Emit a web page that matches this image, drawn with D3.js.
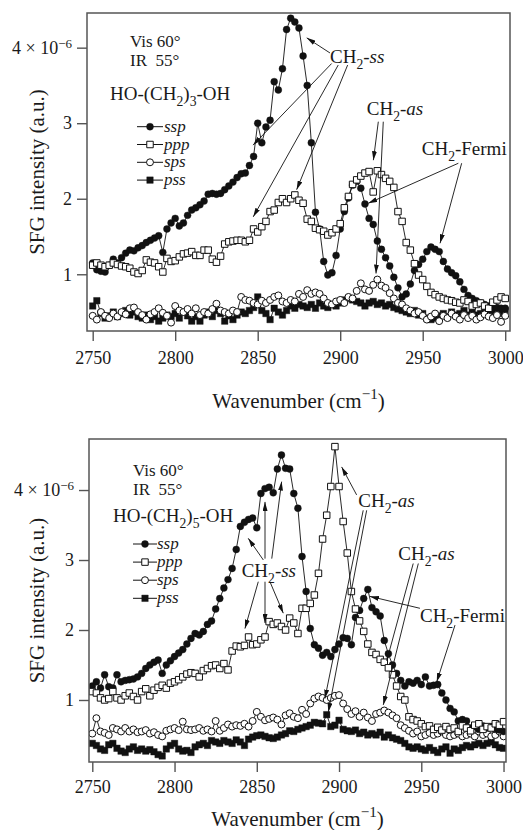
<!DOCTYPE html>
<html>
<head>
<meta charset="utf-8">
<script src="https://cdn.jsdelivr.net/npm/d3@7/dist/d3.min.js"></script>
<style>
   body { margin: 0; background: #fff; }
   svg text { font-family: "Liberation Serif", "Times New Roman", serif; fill: #1a1a1a; }
</style>
</head>
<body>
<svg id="chart" width="523" height="830"></svg>
<script>
// wavenumber grid (cm^-1), shared by every series
var wavenumbers = [
   2750,2752.5,2755,2757.5,2760,2762.5,2765,2767.5,2770,2772.5,
   2775,2777.5,2780,2782.5,2785,2787.5,2790,2792.5,2795,2797.5,
   2800,2802.5,2805,2807.5,2810,2812.5,2815,2817.5,2820,2822.5,
   2825,2827.5,2830,2832.5,2835,2837.5,2840,2842.5,2845,2847.5,
   2850,2852.5,2855,2857.5,2860,2862.5,2865,2867.5,2870,2872.5,
   2875,2877.5,2880,2882.5,2885,2887.5,2890,2892.5,2895,2897.5,
   2900,2902.5,2905,2907.5,2910,2912.5,2915,2917.5,2920,2922.5,
   2925,2927.5,2930,2932.5,2935,2937.5,2940,2942.5,2945,2947.5,
   2950,2952.5,2955,2957.5,2960,2962.5,2965,2967.5,2970,2972.5,
   2975,2977.5,2980,2982.5,2985,2987.5,2990,2992.5,2995,2997.5,
   3000];

// HO-(CH2)3-OH, SFG intensity in units of 1e-6
var topSsp = [
   1.15,1.06,1.04,1.03,1.12,1.20,1.15,1.22,1.28,1.32,
   1.31,1.35,1.38,1.42,1.45,1.48,1.51,1.29,1.60,1.68,
   1.74,1.64,1.68,1.78,1.85,1.88,1.92,1.97,2.06,2.07,
   2.06,2.07,2.12,2.17,2.22,2.28,2.33,2.34,2.44,2.56,
   3.00,2.74,2.95,3.04,3.55,3.44,3.72,4.24,4.39,4.34,
   4.26,3.89,3.50,2.74,1.82,1.60,1.17,0.99,1.02,1.25,
   1.60,1.83,2.01,2.18,2.23,2.14,1.93,1.74,1.66,1.44,
   1.33,1.22,1.11,0.96,0.82,0.70,0.74,0.87,1.05,1.13,
   1.20,1.30,1.36,1.33,1.30,1.17,1.07,1.02,0.98,0.90,
   0.80,0.72,0.68,0.65,0.62,0.60,0.58,0.57,0.56,0.55,
   0.55];
var topPpp = [
   1.12,1.15,1.12,1.10,1.12,1.15,1.13,1.11,1.10,1.08,
   1.03,1.01,1.05,1.19,1.16,1.15,1.10,1.03,1.21,1.17,
   1.18,1.23,1.27,1.28,1.30,1.25,1.25,1.32,1.32,1.20,
   1.16,1.24,1.40,1.43,1.44,1.45,1.45,1.43,1.45,1.60,
   1.56,1.63,1.70,1.83,1.85,1.95,2.00,1.95,2.00,2.05,
   1.98,1.94,1.73,1.70,1.61,1.59,1.57,1.52,1.55,1.60,
   1.67,1.88,2.03,2.19,2.25,2.30,2.34,2.36,2.09,2.37,
   2.32,2.27,2.23,2.15,1.83,1.70,1.42,1.32,1.14,0.99,
   0.93,0.84,0.76,0.73,0.70,0.68,0.66,0.65,0.63,0.62,
   0.66,0.64,0.58,0.60,0.62,0.58,0.55,0.63,0.66,0.70,
   0.68];
var topSps = [
   0.45,0.40,0.50,0.45,0.42,0.48,0.44,0.50,0.47,0.55,
   0.56,0.50,0.46,0.40,0.47,0.50,0.55,0.49,0.45,0.36,
   0.58,0.52,0.50,0.54,0.48,0.55,0.46,0.50,0.48,0.54,
   0.61,0.52,0.50,0.48,0.52,0.50,0.70,0.66,0.65,0.62,
   0.60,0.65,0.62,0.66,0.70,0.72,0.64,0.62,0.66,0.64,
   0.74,0.70,0.79,0.74,0.76,0.74,0.68,0.62,0.60,0.64,
   0.66,0.62,0.70,0.68,0.78,0.88,0.80,0.78,0.86,0.93,
   0.85,0.82,0.75,0.68,0.62,0.60,0.55,0.52,0.48,0.50,
   0.45,0.40,0.44,0.48,0.38,0.45,0.42,0.48,0.44,0.40,
   0.46,0.42,0.45,0.40,0.43,0.47,0.44,0.42,0.46,0.37,
   0.45];
var topPss = [
   0.58,0.65,0.48,0.42,0.45,0.50,0.44,0.48,0.52,0.46,
   0.50,0.44,0.42,0.46,0.40,0.44,0.38,0.42,0.46,0.44,
   0.48,0.42,0.50,0.45,0.38,0.44,0.38,0.46,0.50,0.44,
   0.52,0.48,0.38,0.45,0.40,0.46,0.50,0.48,0.52,0.56,
   0.70,0.52,0.48,0.40,0.55,0.50,0.46,0.52,0.58,0.55,
   0.60,0.58,0.56,0.60,0.55,0.62,0.58,0.56,0.60,0.58,
   0.62,0.66,0.68,0.66,0.64,0.62,0.58,0.62,0.64,0.60,
   0.62,0.58,0.60,0.56,0.54,0.52,0.50,0.48,0.52,0.46,
   0.48,0.42,0.40,0.42,0.45,0.48,0.44,0.50,0.46,0.48,
   0.52,0.46,0.50,0.46,0.48,0.52,0.46,0.50,0.54,0.48,
   0.52];

// HO-(CH2)5-OH
var botSsp = [
   1.20,1.26,1.17,1.36,1.19,1.17,1.36,1.26,1.28,1.29,
   1.30,1.33,1.38,1.45,1.50,1.54,1.57,1.38,1.50,1.56,
   1.62,1.67,1.72,1.80,1.88,1.95,1.93,1.98,2.08,2.13,
   2.30,2.45,2.60,2.72,2.88,3.15,3.48,3.54,3.58,3.60,
   3.46,3.95,4.02,4.04,3.96,4.30,4.50,4.31,4.30,3.95,
   3.74,3.05,2.55,2.02,1.79,1.74,1.64,1.68,1.62,1.72,
   1.80,1.89,1.88,1.79,2.18,2.28,2.45,2.58,2.32,2.26,
   2.20,1.85,1.66,1.50,1.38,1.28,1.20,1.26,1.24,1.28,
   1.22,1.33,1.20,1.21,1.22,1.10,1.00,0.88,0.83,0.70,
   0.72,0.70,0.60,0.62,0.58,0.63,0.60,0.62,0.58,0.57,
   0.55];
var botPpp = [
   1.12,1.10,1.03,1.00,1.02,1.12,1.03,1.00,1.06,1.10,
   1.05,1.00,1.12,1.16,1.06,1.14,1.18,1.21,1.17,1.24,
   1.26,1.29,1.33,1.37,1.39,1.38,1.33,1.42,1.45,1.49,
   1.50,1.45,1.52,1.43,1.70,1.77,1.76,1.78,1.90,1.79,
   1.80,1.86,1.90,2.12,2.08,2.10,2.05,2.00,2.17,2.10,
   1.95,2.31,2.31,2.38,2.50,2.81,3.30,3.64,4.05,4.62,
   4.05,3.55,3.10,2.55,2.30,2.13,1.98,1.80,1.68,1.65,
   1.58,1.54,1.46,1.36,1.20,1.05,1.00,0.76,0.72,0.70,
   0.66,0.62,0.63,0.58,0.61,0.57,0.62,0.58,0.60,0.55,
   0.63,0.60,0.56,0.64,0.66,0.58,0.62,0.60,0.66,0.64,
   0.69];
var botSps = [
   0.52,0.74,0.55,0.53,0.50,0.60,0.58,0.55,0.60,0.55,
   0.58,0.54,0.55,0.57,0.52,0.54,0.50,0.48,0.56,0.58,
   0.60,0.57,0.69,0.58,0.57,0.58,0.60,0.56,0.58,0.55,
   0.70,0.56,0.60,0.65,0.62,0.64,0.63,0.66,0.62,0.70,
   0.83,0.76,0.71,0.73,0.75,0.72,0.65,0.78,0.81,0.76,
   0.74,0.86,0.80,0.95,1.02,1.05,1.03,1.00,1.03,1.06,
   1.07,0.95,0.87,0.80,0.84,0.76,0.82,0.75,0.70,0.80,
   0.82,0.85,0.82,0.78,0.74,0.64,0.60,0.56,0.52,0.55,
   0.48,0.50,0.53,0.50,0.52,0.55,0.50,0.48,0.50,0.52,
   0.48,0.50,0.52,0.48,0.55,0.50,0.52,0.48,0.50,0.55,
   0.48];
var botPss = [
   0.38,0.35,0.30,0.28,0.36,0.38,0.31,0.27,0.25,0.30,
   0.33,0.28,0.30,0.27,0.29,0.26,0.22,0.20,0.30,0.35,
   0.38,0.30,0.27,0.28,0.25,0.33,0.36,0.38,0.35,0.42,
   0.40,0.38,0.42,0.40,0.38,0.43,0.40,0.35,0.44,0.47,
   0.49,0.50,0.48,0.46,0.45,0.47,0.50,0.52,0.56,0.55,
   0.58,0.60,0.62,0.64,0.68,0.67,0.66,0.79,0.62,0.64,
   0.71,0.58,0.56,0.55,0.57,0.52,0.54,0.50,0.52,0.50,
   0.54,0.47,0.50,0.46,0.44,0.42,0.38,0.33,0.31,0.33,
   0.30,0.28,0.32,0.28,0.25,0.30,0.33,0.24,0.30,0.28,
   0.32,0.35,0.33,0.36,0.38,0.35,0.38,0.40,0.36,0.32,
   0.31];

var seriesNames = ["ssp", "ppp", "sps", "pss"];
var drawOrder = ["pss", "sps", "ssp", "ppp"];
var xTicks = [2750, 2800, 2850, 2900, 2950, 3000];
var yTicks = [1, 2, 3, 4];

// label pieces: [text, style]  style: "" | "sub" | "sup" | "it"
var CH2 = [["CH", ""], ["2", "sub"], ["-", ""]];
var lblSS = CH2.concat([["ss", "it"]]);
var lblAS = CH2.concat([["as", "it"]]);
var lblFermi = CH2.concat([["Fermi", ""]]);

// annotations in data units: text anchor [wavenumber, value], arrows [[from],[to]]
var topNotes = [
   {label: lblSS, at: [2893.8, 3.80], arrows: [
      [[2893.8, 3.93], [2879.7, 4.13]],
      [[2894.8, 3.79], [2847.2, 2.71]],
      [[2898.8, 3.77], [2847.3, 1.76]],
      [[2904.5, 3.77], [2873.6, 2.12]]]},
   {label: lblAS, at: [2916.1, 3.11], arrows: [
      [[2923.1, 3.02], [2920.1, 2.51]],
      [[2926.1, 3.02], [2921.7, 1.01]]]},
   {label: lblFermi, at: [2949.4, 2.58], arrows: [
      [[2971.6, 2.47], [2917.0, 1.94]],
      [[2973.6, 2.47], [2960.5, 1.41]]]}
];
var botNotes = [
   {label: lblSS, at: [2840.8, 2.76], arrows: [
      [[2854.0, 3.00], [2844.8, 3.31]],
      [[2855.0, 3.02], [2855.0, 3.83]],
      [[2859.1, 3.02], [2865.1, 4.12]],
      [[2850.9, 2.69], [2842.8, 2.02]],
      [[2855.0, 2.69], [2855.0, 2.10]],
      [[2858.0, 2.69], [2866.1, 2.24]]]},
   {label: lblAS, at: [2911.7, 3.76], arrows: [
      [[2910.7, 3.93], [2901.6, 4.33]],
      [[2914.7, 3.71], [2891.4, 1.02]],
      [[2916.8, 3.71], [2893.5, 0.83]]]},
   {label: lblAS, at: [2936.0, 3.00], arrows: [
      [[2945.1, 2.95], [2929.0, 1.56]],
      [[2948.2, 2.95], [2926.9, 0.93]]]},
   {label: lblFermi, at: [2949.2, 2.12], arrows: [
      [[2949.2, 2.31], [2918.8, 2.48]],
      [[2970.5, 2.07], [2959.4, 1.26]]]}
];

var panels = [
   {id: "t", box: {x: 87, y: 13, w: 423, h: 318},
    xDomain: [2746.55, 3002.9], yDomain: [0.249, 4.459],
    series: {ssp: topSsp, ppp: topPpp, sps: topSps, pss: topPss},
    sub: "3", notes: topNotes,
    head: {x: 43, vis: 34, ir: 53, molX: 23, molY: 87},
    legend: {x0: 50, x1: 76, mx: 63, tx: 77, y0: 113.7, dy: 17.8},
    tickPad: 10, titleY: 77},
   {id: "b", box: {x: 89, y: 439, w: 417, h: 323},
    xDomain: [2748.0, 3001.5], yDomain: [0.114, 4.729],
    series: {ssp: botSsp, ppp: botPpp, sps: botSps, pss: botPss},
    sub: "5", notes: botNotes,
    head: {x: 44, vis: 36.5, ir: 55.5, molX: 24, molY: 82.7},
    legend: {x0: 44, x1: 68, mx: 56, tx: 68, y0: 105, dy: 18.1},
    tickPad: 8, titleY: 64}
];

var serif = "'Liberation Serif', 'Times New Roman', serif";
var frameColor = "#555";
var ink = "#111";

var svg = d3.select("#chart");
var defs = svg.append("defs");
defs.append("marker")
   .attr("id", "arrow")
   .attr("viewBox", "0 0 9 5")
   .attr("refX", 9).attr("refY", 2.5)
   .attr("markerWidth", 9).attr("markerHeight", 5)
   .attr("markerUnits", "userSpaceOnUse")
   .attr("orient", "auto")
   .append("path").attr("d", "M0,0 L9,2.5 L0,5 Z").attr("fill", ink);

function symbolPath(name) {
   var type = (name == "ssp" || name == "sps") ? d3.symbolCircle : d3.symbolSquare;
   var size = type == d3.symbolCircle ? 38 : 42;
   return d3.symbol().type(type).size(size)();
}
function isFilled(name) { return name == "ssp" || name == "pss"; }

function richText(g, x, y, parts, size) {
   var t = g.append("text").attr("x", x).attr("y", y).attr("font-size", size).attr("font-family", serif);
   var shift = 0;
   parts.forEach(function(p) {
      var target = p[1] == "sub" ? size * 0.32 : (p[1] == "sup" ? -size * 0.42 : 0);
      var ts = t.append("tspan").text(p[0]).attr("dy", target - shift);
      if (p[1] == "sub" || p[1] == "sup") ts.attr("font-size", size * 0.72);
      if (p[1] == "it") ts.attr("font-style", "italic");
      shift = target;
   });
   return t;
}

function drawPanel(p) {
   var g = svg.append("g").attr("transform", "translate(" + p.box.x + "," + p.box.y + ")");
   var x = d3.scaleLinear().domain(p.xDomain).range([0, p.box.w]);
   var y = d3.scaleLinear().domain(p.yDomain).range([p.box.h, 0]);

   g.append("clipPath").attr("id", "clip" + p.id)
      .append("rect").attr("width", p.box.w).attr("height", p.box.h);
   var plot = g.append("g").attr("clip-path", "url(#clip" + p.id + ")");

   var line = d3.line()
      .x(function(d, i) { return x(wavenumbers[i]); })
      .y(function(d) { return y(d); });

   drawOrder.forEach(function(name) {
      var vals = p.series[name];
      plot.append("path").datum(vals)
         .attr("d", line)
         .attr("fill", "none")
         .attr("stroke", ink)
         .attr("stroke-width", 0.9);
      plot.selectAll(null).data(vals).enter()
         .append("path")
         .attr("transform", function(d, i) { return "translate(" + x(wavenumbers[i]) + "," + y(d) + ")"; })
         .attr("d", symbolPath(name))
         .attr("fill", isFilled(name) ? ink : "#fff")
         .attr("stroke", ink)
         .attr("stroke-width", isFilled(name) ? 0.4 : 1);
   });

   //frame
   g.append("rect").attr("width", p.box.w).attr("height", p.box.h)
      .attr("fill", "none").attr("stroke", frameColor).attr("stroke-width", 1.5);

   //X axis
   var gx = g.append("g").attr("transform", "translate(0," + p.box.h + ")")
      .call(d3.axisBottom(x).tickValues(xTicks).tickSize(10).tickPadding(p.tickPad).tickFormat(d3.format("d")));
   gx.attr("font-family", serif).attr("font-size", 18);
   gx.selectAll(".tick text").attr("font-family", serif);
   gx.select(".domain").remove();
   gx.selectAll(".tick line").attr("stroke", frameColor).attr("stroke-width", 1.4);

   //Y axis
   var gy = g.append("g")
      .call(d3.axisLeft(y).tickValues(yTicks).tickSize(10).tickPadding(5)
         .tickFormat(function(d) { return d == 4 ? "" : d; }));
   gy.attr("font-family", serif).attr("font-size", 18);
   gy.selectAll(".tick text").attr("font-family", serif);
   gy.select(".domain").remove();
   gy.selectAll(".tick line").attr("stroke", frameColor).attr("stroke-width", 1.4);
   gy.selectAll(".tick text").filter(function(d) { return d == 4; }).each(function() {
      var t = d3.select(this);
      t.append("tspan").text("4 \u00d7 10");
      t.append("tspan").attr("dy", "-0.45em").attr("font-size", 13).text("\u22126");
   });

   //axis titles
   richText(g, p.box.w / 2, p.box.h + p.titleY, [["Wavenumber (cm", ""], ["\u22121", "sup"], [")", ""]], 21)
      .attr("text-anchor", "middle");
   g.append("text")
      .attr("transform", "translate(" + (44 - p.box.x) + "," + (p.box.h / 2) + ") rotate(-90)")
      .attr("text-anchor", "middle")
      .attr("font-family", serif)
      .attr("font-size", 21)
      .text("SFG intensity (a.u.)");

   //conditions and molecule
   g.append("text").attr("x", p.head.x).attr("y", p.head.vis).attr("font-size", 17).text("Vis 60\u00b0");
   g.append("text").attr("x", p.head.x).attr("y", p.head.ir).attr("font-size", 17).text("IR\u00a0\u00a055\u00b0");
   richText(g, p.head.molX, p.head.molY,
      [["HO-(CH", ""], ["2", "sub"], [")", ""], [p.sub, "sub"], ["-OH", ""]], 19);

   //legend
   var L = p.legend;
   seriesNames.forEach(function(name, j) {
      var ly = L.y0 + j * L.dy;
      g.append("line").attr("x1", L.x0).attr("x2", L.x1).attr("y1", ly).attr("y2", ly)
         .attr("stroke", ink).attr("stroke-width", 1);
      g.append("path").attr("transform", "translate(" + L.mx + "," + ly + ")")
         .attr("d", symbolPath(name))
         .attr("fill", isFilled(name) ? ink : "#fff")
         .attr("stroke", ink).attr("stroke-width", isFilled(name) ? 0.4 : 1);
      g.append("text").attr("x", L.tx).attr("y", ly + 5)
         .attr("font-size", 17).attr("font-style", "italic").text(name);
   });

   //peak annotations
   p.notes.forEach(function(n) {
      richText(g, x(n.at[0]), y(n.at[1]), n.label, 19);
      n.arrows.forEach(function(a) {
         g.append("line")
            .attr("x1", x(a[0][0])).attr("y1", y(a[0][1]))
            .attr("x2", x(a[1][0])).attr("y2", y(a[1][1]))
            .attr("stroke", ink).attr("stroke-width", 0.9)
            .attr("marker-end", "url(#arrow)");
      });
   });
}

panels.forEach(drawPanel);
</script>
</body>
</html>
